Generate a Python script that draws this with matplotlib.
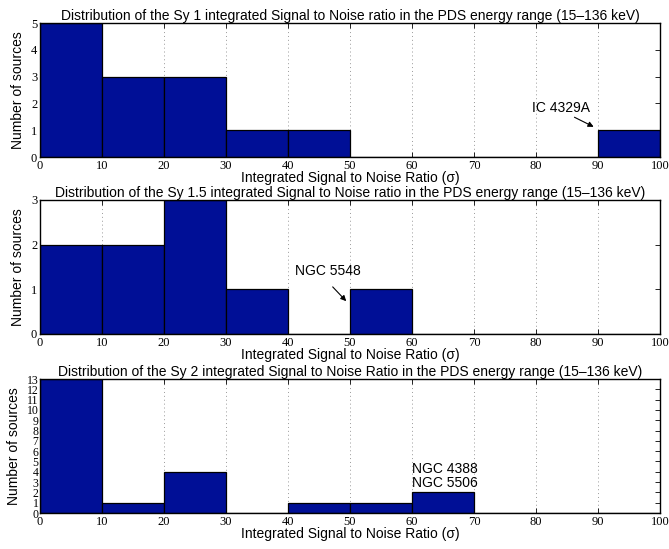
import numpy as np
import matplotlib
matplotlib.use("Agg")
import matplotlib.pyplot as plt

# bin edges and counts per panel
edges = np.arange(0, 101, 10)
sy1_counts = [5, 3, 3, 1, 1, 0, 0, 0, 0, 1]
sy15_counts = [2, 2, 3, 1, 0, 1, 0, 0, 0, 0]
sy2_counts = [13, 1, 4, 0, 1, 1, 2, 0, 0, 0]

titles = [
    "Distribution of the Sy 1 integrated Signal to Noise ratio in the PDS energy range (15\u2013136 keV)",
    "Distribution of the Sy 1.5 integrated Signal to Noise ratio in the PDS energy range (15\u2013136 keV)",
    "Distribution of the Sy 2 integrated Signal to Noise Ratio in the PDS energy range (15\u2013136 keV)",
]
xlabel = "Integrated Signal to Noise Ratio (\u03c3)"
ylabel = "Number of sources"

sans = "Liberation Sans"
serif = "Liberation Serif"
barcol = "#000F96"

fig = plt.figure(figsize=(6.69, 5.49), dpi=100)
left, width, height = 40 / 669, 620 / 669, 134 / 549
bottoms = [1 - 157 / 549, 1 - 334 / 549, 1 - 513 / 549]

axes = []
for i, (counts, ttl) in enumerate(zip([sy1_counts, sy15_counts, sy2_counts], titles)):
    ax = fig.add_axes([left, bottoms[i], width, height])
    ax.bar(edges[:-1], counts, width=10, align="edge", color=barcol,
           edgecolor="black", linewidth=0.9, zorder=2)
    ymax = max(counts)
    ax.set_xlim(0, 100)
    ax.set_ylim(0, ymax)
    ax.set_xticks(edges)
    ax.set_yticks(range(0, ymax + 1))
    ax.tick_params(direction="in", top=True, right=True, length=3.5, width=0.6, pad=2,
                   labelsize=9)
    if ymax > 10:
        ax.tick_params(axis="y", labelsize=8.5, pad=1)
    for lab in ax.get_xticklabels() + ax.get_yticklabels():
        lab.set_fontfamily(serif)
    ax.xaxis.grid(True, linestyle=(0, (1, 3)), color="#999999", linewidth=0.7, zorder=0)
    ax.set_axisbelow(True)
    for s in ax.spines.values():
        s.set_linewidth(1.0)
    ax.set_title(ttl, fontsize=10, family=sans, pad=2)
    ax.set_xlabel(xlabel, fontsize=10, family=sans)
    ax.xaxis.set_label_coords(0.5, -0.105)
    ax.set_ylabel(ylabel, fontsize=10, family=sans, labelpad=4)
    axes.append(ax)

ax1, ax2, ax3 = axes
arrow = dict(arrowstyle="-|>", color="black", lw=0.8, mutation_scale=8)
ax1.text(79.4, 1.83, "IC 4329A", fontsize=10, family=sans, va="center")
ax1.annotate("", xy=(89.7, 1.08), xytext=(85.8, 1.53), arrowprops=arrow)
ax2.text(41.1, 1.41, "NGC 5548", fontsize=10, family=sans, va="center")
ax2.annotate("", xy=(49.7, 0.69), xytext=(46.9, 1.10), arrowprops=arrow)
ax3.text(60.0, 3.6, "NGC 4388\nNGC 5506", fontsize=10, family=sans, va="center",
         linespacing=1.0)

fig.savefig("out.png", dpi=100)
